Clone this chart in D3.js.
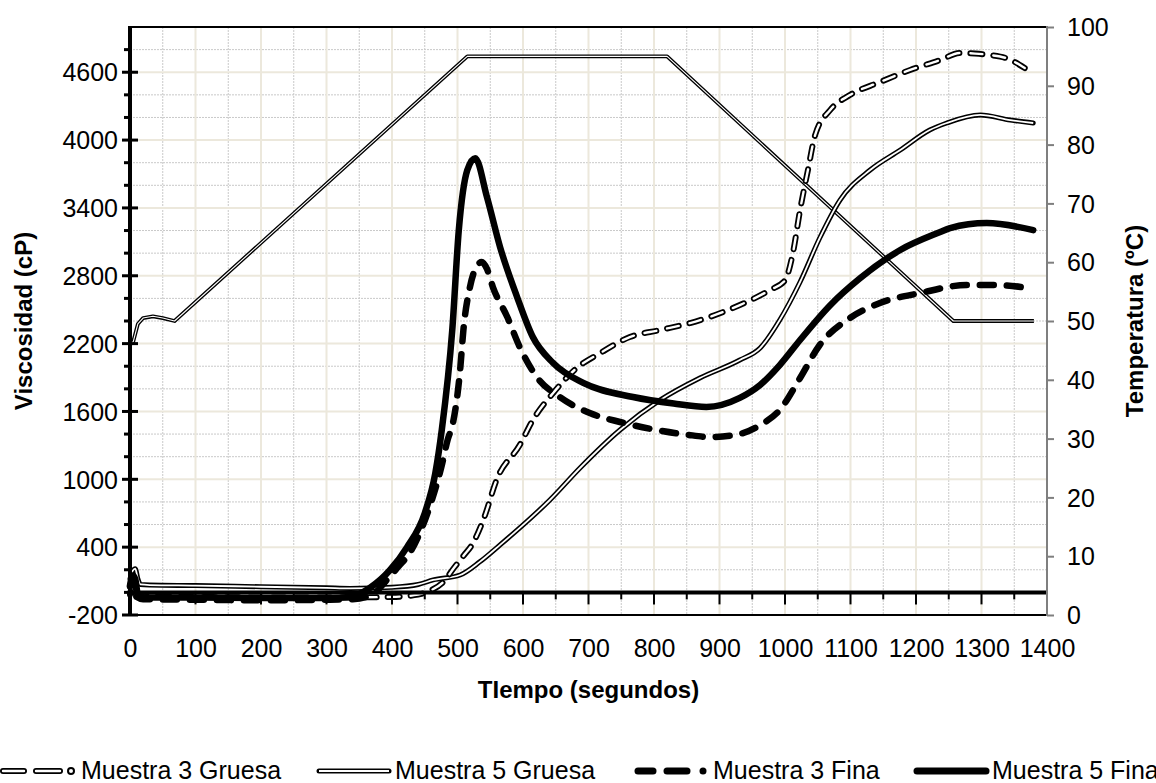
<!DOCTYPE html>
<html><head><meta charset="utf-8">
<script src="https://cdn.jsdelivr.net/npm/d3@7"></script>
<style>html,body{margin:0;padding:0;background:#fff;overflow:hidden}text{font-family:"Liberation Sans",Arial,sans-serif}</style>
</head><body>
<svg id="c" width="1156" height="783"></svg>
<script>
// ---- data ----
const xTicks = [0,100,200,300,400,500,600,700,800,900,1000,1100,1200,1300,1400];
const viscTicks = [-200,400,1000,1600,2200,2800,3400,4000,4600];
const tempTicks = [0,10,20,30,40,50,60,70,80,90,100];

const m3GruesaT = [0,5,10,30,100,200,300,400,440,460,478,495,510,522,540,560,595,615,646,682,718,763,809,855,931,977,1000,1012,1023,1035,1046,1069,1099,1145,1191,1237,1267,1290,1313,1340,1366];
const m3GruesaV = [-20,80,-30,-35,-40,-45,-45,-40,-20,20,90,220,330,420,650,1000,1303,1524,1763,1984,2117,2258,2320,2382,2541,2674,2760,3000,3381,3735,4045,4266,4398,4513,4620,4708,4770,4765,4752,4720,4637];

const m5GruesaT = [0,4,8,12,16,30,100,200,300,336,400,440,463,504,534,565,595,641,687,748,809,870,931,962,992,1023,1053,1084,1130,1176,1221,1247,1298,1344,1379];
const m5GruesaV = [120,190,210,120,70,65,60,50,40,35,45,70,110,154,270,420,570,817,1100,1436,1700,1896,2055,2161,2409,2745,3134,3470,3735,3912,4089,4151,4222,4177,4151];

const m3FinaT = [0,5,10,20,100,200,300,340,370,392,410,427,445,460,475,485,493,504,509,519,528,537,545,554,576,595,621,656,702,748,800,850,885,930,962,992,1023,1053,1099,1145,1206,1278,1323,1371];
const m3FinaV = [50,120,-40,-60,-65,-70,-65,-60,-20,110,230,348,560,800,1100,1350,1498,1967,2320,2700,2870,2921,2860,2700,2435,2170,1905,1728,1586,1507,1440,1395,1374,1400,1480,1613,1896,2188,2426,2559,2647,2718,2718,2692];

const m5FinaT = [0,4,8,12,16,30,100,200,300,336,366,397,423,450,466,476,492,502,515,527,545,565,591,615,646,692,768,830,880,931,962,992,1023,1069,1115,1176,1237,1252,1308,1379];
const m5FinaV = [60,150,120,-20,-40,-45,-45,-50,-50,-40,39,198,400,700,1050,1436,2320,3205,3735,3840,3496,3054,2612,2258,2029,1852,1728,1670,1640,1720,1834,2010,2232,2540,2780,3028,3187,3222,3266,3204];

const tempT = [0,5,12,20,35,50,68,515,820,1257,1380];
const tempV = [46,46.5,49.5,50.5,50.8,50.5,50,95,95,50,50];

const legendNames = ["Muestra 3 Gruesa","Muestra 5 Gruesa","Muestra 3 Fina","Muestra 5 Fina"];

// ---- chart ----
const svg = d3.select("#c");
const x = d3.scaleLinear().domain([0,1400]).range([130,1047]);
const yL = d3.scaleLinear().domain([-200,5000]).range([615,27]);
const yR = d3.scaleLinear().domain([0,100]).range([615,27]);
const fmt = d3.format("d");

const beige = "#ECE8DC", dotted = "#C9C9C9";
const g = svg.append("g");
// grid
const xMinor = d3.range(50,1400,100);
const xMajor = xTicks.filter(v=>v>0 && v<1400);
const yMinor = d3.range(-200,5001,200).filter(v=>!viscTicks.includes(v) && v<5000);
const yMajor = viscTicks.filter(v=>v>-200);
g.selectAll(".gxm").data(xMinor).join("line").attr("x1",d=>x(d)).attr("x2",d=>x(d)).attr("y1",27).attr("y2",615).attr("stroke",dotted).attr("stroke-width",1).attr("stroke-dasharray","2,1");
g.selectAll(".gym").data(yMinor).join("line").attr("y1",d=>yL(d)).attr("y2",d=>yL(d)).attr("x1",130).attr("x2",1047).attr("stroke",dotted).attr("stroke-width",1).attr("stroke-dasharray","2,1");
g.selectAll(".gxM").data(xMajor).join("line").attr("x1",d=>x(d)).attr("x2",d=>x(d)).attr("y1",27).attr("y2",615).attr("stroke",beige).attr("stroke-width",2);
g.selectAll(".gyM").data(yMajor).join("line").attr("y1",d=>yL(d)).attr("y2",d=>yL(d)).attr("x1",130).attr("x2",1047).attr("stroke",beige).attr("stroke-width",2);

// border
svg.append("line").attr("x1",130).attr("x2",1047).attr("y1",27).attr("y2",27).attr("stroke","#000").attr("stroke-width",2);
svg.append("line").attr("x1",130).attr("x2",1047).attr("y1",615).attr("y2",615).attr("stroke","#000").attr("stroke-width",2);

// series
const zip = (T,V)=>T.map((t,i)=>[t,V[i]]);
const lineL = d3.line().x(d=>x(d[0])).y(d=>yL(d[1])).curve(d3.curveMonotoneX);
const lineR = d3.line().x(d=>x(d[0])).y(d=>yR(d[1]));
const plot = svg.append("g");

// temperature (double line)
plot.append("path").attr("d",lineR(zip(tempT,tempV))).attr("fill","none").attr("stroke","#000").attr("stroke-width",3.8).attr("stroke-linejoin","round");
plot.append("path").attr("d",lineR(zip(tempT,tempV))).attr("fill","none").attr("stroke","#fff").attr("stroke-width",1.1).attr("stroke-linejoin","round");

// Muestra 5 Gruesa
const m5g = lineL(zip(m5GruesaT,m5GruesaV));
plot.append("path").attr("d",m5g).attr("fill","none").attr("stroke","#000").attr("stroke-width",5).attr("stroke-linejoin","round").attr("stroke-linecap","round");
plot.append("path").attr("d",m5g).attr("fill","none").attr("stroke","#fff").attr("stroke-width",1.8).attr("stroke-linejoin","round");

// Muestra 3 Gruesa
const m3g = lineL(zip(m3GruesaT,m3GruesaV));
plot.append("path").attr("d",m3g).attr("fill","none").attr("stroke","#000").attr("stroke-width",6).attr("stroke-dasharray","12,11").attr("stroke-linecap","round");
plot.append("path").attr("d",m3g).attr("fill","none").attr("stroke","#fff").attr("stroke-width",2.4).attr("stroke-dasharray","12,11").attr("stroke-linecap","round");

// Muestra 3 Fina
plot.append("path").attr("d",lineL(zip(m3FinaT,m3FinaV))).attr("fill","none").attr("stroke","#000").attr("stroke-width",6.5).attr("stroke-dasharray","14,13").attr("stroke-linecap","round");

// Muestra 5 Fina
plot.append("path").attr("d",lineL(zip(m5FinaT,m5FinaV))).attr("fill","none").attr("stroke","#000").attr("stroke-width",6.5).attr("stroke-linejoin","round").attr("stroke-linecap","round");

// x axis at viscosity 0
const y0 = yL(0);
svg.append("line").attr("x1",130).attr("x2",1047).attr("y1",y0).attr("y2",y0).attr("stroke","#000").attr("stroke-width",4);
svg.selectAll(".xt").data(xTicks.filter(v=>v>0)).join("line").attr("x1",d=>x(d)).attr("x2",d=>x(d)).attr("y1",y0).attr("y2",y0+12).attr("stroke","#000").attr("stroke-width",2);
svg.selectAll(".xtm").data(xMinor).join("line").attr("x1",d=>x(d)).attr("x2",d=>x(d)).attr("y1",y0).attr("y2",y0+7).attr("stroke","#000").attr("stroke-width",2);

// x labels via axis
const xAx = svg.append("g").attr("transform","translate(0,615)").call(d3.axisBottom(x).tickValues(xTicks).tickFormat(fmt).tickSize(0).tickPadding(0));
xAx.select(".domain").remove();
xAx.selectAll("text").attr("y",42).attr("dy",null).attr("font-size",25).attr("fill","#000").style("font-family","'Liberation Sans',Arial,sans-serif");

// left axis
svg.append("line").attr("x1",130).attr("x2",130).attr("y1",26).attr("y2",616).attr("stroke","#000").attr("stroke-width",4);
svg.selectAll(".lt").data(viscTicks).join("line").attr("x1",122).attr("x2",138).attr("y1",d=>yL(d)).attr("y2",d=>yL(d)).attr("stroke","#000").attr("stroke-width",3);
svg.selectAll(".ltm").data(yMinor).join("line").attr("x1",124).attr("x2",130).attr("y1",d=>yL(d)).attr("y2",d=>yL(d)).attr("stroke","#000").attr("stroke-width",3);
const lAx = svg.append("g").attr("transform","translate(118,0)").call(d3.axisLeft(yL).tickValues(viscTicks).tickFormat(v=>v<0?"-"+fmt(-v):fmt(v)).tickSize(0).tickPadding(0));
lAx.select(".domain").remove();
lAx.selectAll("text").attr("font-size",25).attr("fill","#000").attr("dy","0.35em").style("font-family","'Liberation Sans',Arial,sans-serif");

// right axis
svg.append("line").attr("x1",1047).attr("x2",1047).attr("y1",26).attr("y2",616).attr("stroke","#7F7F7F").attr("stroke-width",2);
const rAx = svg.append("g").attr("transform","translate(1047,0)").call(d3.axisRight(yR).tickValues(tempTicks).tickFormat(fmt).tickSize(7).tickPadding(13));
rAx.select(".domain").remove();
rAx.selectAll("line").attr("stroke","#7F7F7F").attr("stroke-width",2);
rAx.selectAll("text").attr("font-size",25).attr("fill","#000").attr("dy","0.35em").style("font-family","'Liberation Sans',Arial,sans-serif");

// titles
svg.append("text").attr("transform","translate(32,321) rotate(-90)").attr("text-anchor","middle").attr("font-weight","bold").attr("font-size",24).text("Viscosidad (cP)");
svg.append("text").attr("transform","translate(1143,321) rotate(-90)").attr("text-anchor","middle").attr("font-weight","bold").attr("font-size",24).text("Temperatura (ºC)");
svg.append("text").attr("x",588.5).attr("y",698).attr("text-anchor","middle").attr("font-weight","bold").attr("font-size",24).text("TIempo (segundos)");

// legend
const lg = svg.append("g");
const ly = 771, lBase = 779;
// 1 - Muestra 3 Gruesa
[[3,24],[36,60]].forEach(s=>{
  lg.append("line").attr("x1",s[0]).attr("x2",s[1]).attr("y1",ly).attr("y2",ly).attr("stroke","#000").attr("stroke-width",6).attr("stroke-linecap","round");
  lg.append("line").attr("x1",s[0]).attr("x2",s[1]).attr("y1",ly).attr("y2",ly).attr("stroke","#fff").attr("stroke-width",2.4).attr("stroke-linecap","round");
});
lg.append("circle").attr("cx",71).attr("cy",ly).attr("r",3).attr("fill","#fff").attr("stroke","#000").attr("stroke-width",2);
lg.append("text").attr("x",81).attr("y",lBase).attr("font-size",25).text(legendNames[0]);
// 2 - Muestra 5 Gruesa
lg.append("line").attr("x1",319).attr("x2",389).attr("y1",ly).attr("y2",ly).attr("stroke","#000").attr("stroke-width",5).attr("stroke-linecap","round");
lg.append("line").attr("x1",319).attr("x2",389).attr("y1",ly).attr("y2",ly).attr("stroke","#fff").attr("stroke-width",1.8);
lg.append("text").attr("x",395).attr("y",lBase).attr("font-size",25).text(legendNames[1]);
// 3 - Muestra 3 Fina
[[638,653],[667,687]].forEach(s=>{
  lg.append("line").attr("x1",s[0]).attr("x2",s[1]).attr("y1",ly).attr("y2",ly).attr("stroke","#000").attr("stroke-width",7).attr("stroke-linecap","round");
});
lg.append("circle").attr("cx",703).attr("cy",ly).attr("r",3.5).attr("fill","#000");
lg.append("text").attr("x",713).attr("y",lBase).attr("font-size",25).text(legendNames[2]);
// 4 - Muestra 5 Fina
lg.append("line").attr("x1",917).attr("x2",986).attr("y1",ly).attr("y2",ly).attr("stroke","#000").attr("stroke-width",7).attr("stroke-linecap","round");
lg.append("text").attr("x",992).attr("y",lBase).attr("font-size",25).text(legendNames[3]);
</script>
</body></html>
